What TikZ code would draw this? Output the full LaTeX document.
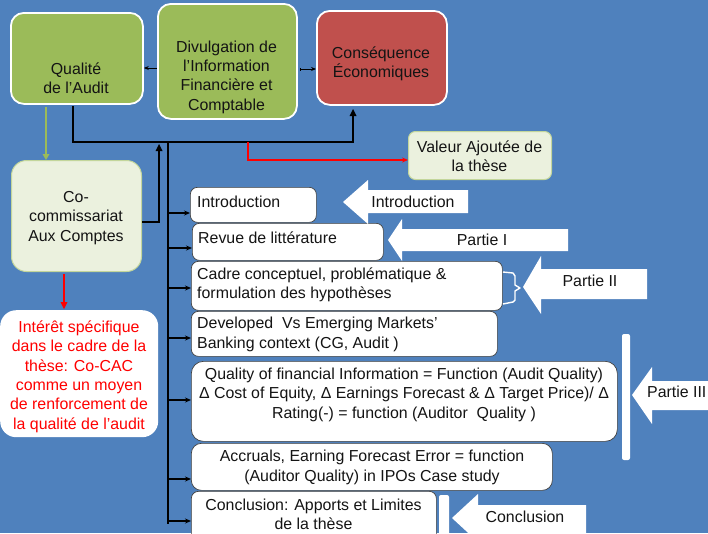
\documentclass[tikz,border=0pt]{standalone}
\usepackage{fontspec}
\setmainfont{Liberation Sans}
\usetikzlibrary{arrows.meta}
\definecolor{bg}{HTML}{4F81BD}
\definecolor{grn}{HTML}{9BBB59}
\definecolor{redbox}{HTML}{C0504D}
\definecolor{lgrn}{HTML}{EBF1DE}
\definecolor{lgrnb}{HTML}{C3D69B}
\definecolor{txtred}{HTML}{FF0000}
\begin{document}
\begin{tikzpicture}[x=1pt,y=-1pt,
  txt/.style={font=\fontsize{15.9}{19.4}\selectfont, inner sep=0pt, text=black!92},
  topbox/.style={draw=white, line width=1.8pt, rounded corners=13pt, anchor=north west},
  lbox/.style={fill=lgrn, draw=lgrnb, line width=1pt, anchor=north west},
  chap/.style={fill=white, draw=black!75, line width=0.7pt, rounded corners=7pt, anchor=north west},
  bus/.style={line width=2.2pt, black},
  tip/.style={-{Stealth[length=6pt,width=5pt]}},
  carrow/.style={line width=1.6pt, black, tip},
  blk/.style={fill=white, draw=none}]
\fill[bg] (0,0) rectangle (708,533);
\useasboundingbox (0,0) rectangle (708,533);
\clip (0,0) rectangle (708,533);

% top boxes
\node[topbox, fill=grn, minimum width=132pt, minimum height=91pt] (qa) at (10,12) {};
\node[txt, align=center] (qaT) at (76,78) {Qualité\\de l’Audit};
\node[topbox, fill=grn, minimum width=139pt, minimum height=115pt] (div) at (157,3) {};
\node[txt, align=center] (divT) at (226.5,77) {Divulgation de\\l’Information\\Financière et\\Comptable};
\node[topbox, fill=redbox, minimum width=130pt, minimum height=94pt] (cons) at (316,10) {};
\node[txt, align=center] (consT) at (381,64) {Conséquence\\Économiques};

% light boxes
\node[lbox, rounded corners=7pt, minimum width=143pt, minimum height=48pt] (val) at (408,131) {};
\node[txt, align=center] (valT) at (479.5,156) {Valeur Ajoutée de\\la thèse};
\node[lbox, rounded corners=15pt, minimum width=130pt, minimum height=111pt] (cocom) at (11,160) {};
\node[txt, align=center] (cocomT) at (76,218) {Co-\\commissariat\\Aux Comptes};
\node[fill=white, rounded corners=16pt, anchor=north west, minimum width=158pt, minimum height=127pt] (int) at (0,310) {};
\node[txt, align=center, text=txtred] (intT) at (79,376.5) {Intérêt spécifique\\dans le cadre de la\\thèse: Co-CAC\\comme un moyen\\de renforcement de\\la qualité de l’audit};

% chapter boxes
\node[chap, minimum width=126pt, minimum height=35pt] (intro) at (190,187) {};
\node[txt, anchor=west] (introT) at (197,202) {Introduction};
\node[chap, minimum width=191pt, minimum height=37pt] (revue) at (192,223) {};
\node[txt, anchor=west] (revueT) at (198,238) {Revue de littérature};
\node[chap, minimum width=311pt, minimum height=49pt] (cadre) at (191,261) {};
\node[txt, anchor=west, align=left] (cadreT) at (197,285) {Cadre conceptuel, problématique \&\\formulation des hypothèses};
\node[chap, minimum width=306pt, minimum height=45pt] (dev) at (191,311) {};
\node[txt, anchor=west, align=left] (devT) at (197,334.5) {Developed\ \ Vs Emerging Markets’\\Banking context (CG, Audit )};
\node[chap, rounded corners=12pt, minimum width=426pt, minimum height=80pt] (qual) at (191,361) {};
\node[txt, align=center] (qualT) at (404,394.5) {Quality of financial Information = Function (Audit Quality)\\Δ Cost of Equity, Δ Earnings Forecast \& Δ Target Price)/ Δ\\Rating(-) = function (Auditor\ \ Quality )};
\node[chap, rounded corners=10pt, minimum width=361pt, minimum height=47pt] (accr) at (191,443) {};
\node[txt, align=center] (accrT) at (372,467.5) {Accruals, Earning Forecast Error = function\\(Auditor Quality) in IPOs Case study};
\node[chap, minimum width=245pt, minimum height=50pt] (concl) at (191,491) {};
\node[txt, align=center] (conclT) at (313.5,514.5) {Conclusion: Apports et Limites\\de la thèse};

% top small arrows
\coordinate (ya) at (0,68);
\coordinate (yb) at (0,69);
\draw[line width=0.8pt, -{Stealth[length=5pt,width=4pt]}] (div.west |- ya) -- (qa.east |- ya);
\draw[line width=0.8pt, {Bar[width=3pt]}-{Stealth[length=5pt,width=4pt]}] ([xshift=2pt]div.east |- yb) -- (cons.west |- yb);

% black bus
\coordinate (busL) at (73,142);
\coordinate (busR) at (353,142);
\coordinate (qaB) at (73,106);
\coordinate (consTip) at (353,109);
\draw[bus] (qaB) -- (busL) -- (busR) -- (353,114);
\fill (349.5,116) -- (356.5,116) -- (consTip) -- cycle;
\coordinate (vtop) at (168,141);
\coordinate (vbot) at (168,524);
\draw[bus] (vtop) -- (vbot);
\coordinate (cc) at (142,222);
\coordinate (cv) at (159,222);
\coordinate (cvt) at (159,144);
\draw[bus] (cocom.east |- cc) -- (cv) -- (159,149);
\fill (155.5,151) -- (162.5,151) -- (cvt) -- cycle;

% chapter arrows
\foreach \n/\y in {intro/213, revue/248, cadre/288, dev/338, qual/400, accr/479, concl/521}{
  \coordinate (a\n) at (168,\y);
  \draw[carrow] (a\n) -- (a\n -| \n.west);
}

% red line to Valeur
\coordinate (rA) at (248,142);
\coordinate (rB) at (248,160);
\draw[txtred, line width=1.8pt, tip] (rA) -- (rB) -- (rB -| val.west);

% green arrow
\coordinate (g1) at (46,107);
\coordinate (g2) at (46,160);
\draw[grn, line width=1.6pt] (g1) -- (46,155);
\fill[grn] (42.5,154) -- (49.5,154) -- (g2) -- cycle;

% red arrow
\coordinate (r1) at (64,274);
\coordinate (r2) at (64,309);
\draw[txtred, line width=1.6pt] (r1) -- (64,303);
\fill[txtred] (60.5,302) -- (67.5,302) -- (r2) -- cycle;

% block arrows
\fill[blk] (343,202) -- (368,180) -- (368,190) -- (468,190) -- (468,213) -- (368,213) -- (368,224) -- cycle;
\node[txt] (arIntro) at (413,202) {Introduction};
\fill[blk] (388,240) -- (402,219) -- (402,229) -- (568,229) -- (568,251) -- (402,251) -- (402,261) -- cycle;
\node[txt] (arP1) at (482,240) {Partie I};
\fill[blk] (523,287) -- (541,256) -- (541,269) -- (647,269) -- (647,299) -- (541,299) -- (541,314) -- cycle;
\node[txt] (arP2) at (590,281) {Partie II};
\draw[white, line width=1.4pt, line join=round] (503,272) -- (513,273) -- (515,276) -- (515,285) -- (520,288) -- (515,291) -- (515,300) -- (513,302) -- (503,304);
\fill[white, rounded corners=2pt] (622,334) rectangle (630,460);
\fill[blk] (632,395) -- (652,367) -- (652,381) -- (712,381) -- (712,410) -- (652,410) -- (652,424) -- cycle;
\node[txt, anchor=west] (arP3) at (647,392) {Partie III};
\fill[white, rounded corners=2pt] (439,495) rectangle (449,540);
\fill[blk] (452,518) -- (478,494) -- (478,505) -- (586,505) -- (586,540) -- (478,540) -- (478,542) -- cycle;
\node[txt] (arC) at (525,517) {Conclusion};
\end{tikzpicture}
\end{document}
